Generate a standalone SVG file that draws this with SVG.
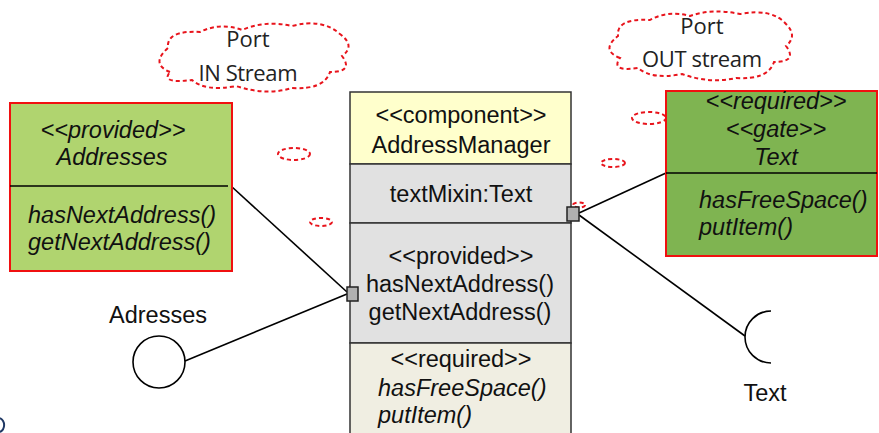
<svg xmlns="http://www.w3.org/2000/svg" width="879" height="433" viewBox="0 0 879 433">
<style>
text{font-family:"Liberation Sans",Arial,sans-serif;font-size:23.5px;fill:#111}
.it{font-style:italic}
.c{text-anchor:middle}
.cl{font-family:"Open Sans","Liberation Sans",sans-serif;font-size:22px;fill:#222}
.cloud{fill:none;stroke:#e8141c;stroke-width:2;stroke-dasharray:4 3}
.box{stroke:#333;stroke-width:1.5}
.gb{stroke:#f01010;stroke-width:2}
.ln{stroke:#000;stroke-width:1.6;fill:none}
.port{fill:#b0b0b0;stroke:#222;stroke-width:1.5}
</style>
<rect width="879" height="433" fill="#fff"/>

<g id="cloud-in">
<path class="cloud" d="M170,72 Q150,64 168,48 Q166,30 200,32 Q220,22 242,30 Q265,20 292,26 Q322,18 340,34 Q356,46 342,56 Q354,72 330,72 Q324,90 292,88 Q266,96 236,86 Q206,92 192,80 Q160,84 170,72 Z"/>
<text class="cl c" x="248" y="47">Port</text>
<text class="cl c" x="248" y="81" textLength="99">IN Stream</text>
</g>
<g id="cloud-out">
<path class="cloud" d="M620,58 Q600,50 618,36 Q616,18 650,20 Q668,10 690,16 Q712,8 740,14 Q772,8 786,24 Q798,36 786,46 Q798,62 774,62 Q768,80 736,78 Q710,84 682,74 Q652,80 638,68 Q610,72 620,58 Z"/>
<text class="cl c" x="702" y="34">Port</text>
<text class="cl c" x="702" y="67" textLength="120">OUT stream</text>
</g>

<g id="marks">
<ellipse class="cloud" cx="294" cy="154" rx="16" ry="6" stroke-width="1.8"/>
<ellipse class="cloud" cx="321" cy="222" rx="11" ry="4" stroke-width="1.8"/>
<ellipse class="cloud" cx="649" cy="118" rx="17" ry="6" stroke-width="1.8"/>
<ellipse class="cloud" cx="613" cy="163" rx="12" ry="4" stroke-width="1.8"/>
<ellipse class="cloud" cx="353" cy="288" rx="5" ry="2.5" stroke-width="1.5"/>
<ellipse class="cloud" cx="579" cy="205" rx="6" ry="2.5" stroke-width="1.5"/>
</g>

<g id="connectors">
<line class="ln" x1="231" y1="186" x2="347" y2="292"/>
<line class="ln" x1="185" y1="361" x2="347" y2="294"/>
<line class="ln" x1="579" y1="213" x2="666" y2="173"/>
<line class="ln" x1="579" y1="215" x2="745" y2="336"/>
</g>

<g id="addresses-provided">
<rect class="gb" x="10" y="103" width="222" height="168" fill="#b0d46f"/>
<line x1="10" y1="186" x2="228" y2="186" stroke="#000" stroke-width="1.6"/>
<text class="it c" x="113" y="138">&lt;&lt;provided&gt;&gt;</text>
<text class="it c" x="112" y="165">Addresses</text>
<text class="it" x="28" y="223">hasNextAddress()</text>
<text class="it" x="28" y="250">getNextAddress()</text>
</g>

<g id="address-manager">
<rect class="box" x="350" y="92" width="221" height="72" fill="#ffffcc"/>
<rect class="box" x="350" y="164" width="221" height="59" fill="#e1e1e1"/>
<rect class="box" x="350" y="223" width="221" height="120" fill="#e1e1e1"/>
<rect class="box" x="350" y="343" width="221" height="92" fill="#f0eee2"/>
<text class="c" x="461" y="123">&lt;&lt;component&gt;&gt;</text>
<text class="c" x="461" y="153">AddressManager</text>
<text class="c" x="461" y="202">textMixin:Text</text>
<text class="c" x="461" y="264">&lt;&lt;provided&gt;&gt;</text>
<text class="c" x="460" y="292">hasNextAddress()</text>
<text class="c" x="460" y="320">getNextAddress()</text>
<text class="c" x="461" y="367">&lt;&lt;required&gt;&gt;</text>
<text class="it" x="378" y="396">hasFreeSpace()</text>
<text class="it" x="378" y="423">putItem()</text>
</g>

<g id="port-in"><rect class="port" x="347" y="287" width="11" height="14"/></g>
<g id="port-out"><rect class="port" x="567" y="207" width="12" height="14"/></g>

<g id="text-required">
<rect class="gb" x="666" y="91" width="211" height="165" fill="#7fb451"/>
<line x1="666" y1="173" x2="877" y2="173" stroke="#000" stroke-width="1.6"/>
<text class="it c" x="776" y="109">&lt;&lt;required&gt;&gt;</text>
<text class="it c" x="776" y="137">&lt;&lt;gate&gt;&gt;</text>
<text class="it c" x="776" y="165">Text</text>
<text class="it" x="699" y="208">hasFreeSpace()</text>
<text class="it" x="699" y="235">putItem()</text>
</g>

<g id="adresses-interface">
<circle cx="159" cy="362" r="26" fill="#fff" stroke="#000" stroke-width="1.6"/>
<text class="c" x="158" y="323">Adresses</text>
</g>

<g id="text-socket">
<path class="ln" d="M771,311 A26,26 0 0 0 771,363"/>
<text class="c" x="765" y="401">Text</text>
</g>

<path d="M0,418 A8,8 0 0 1 0,432" fill="none" stroke="#1f3864" stroke-width="2"/>
</svg>
